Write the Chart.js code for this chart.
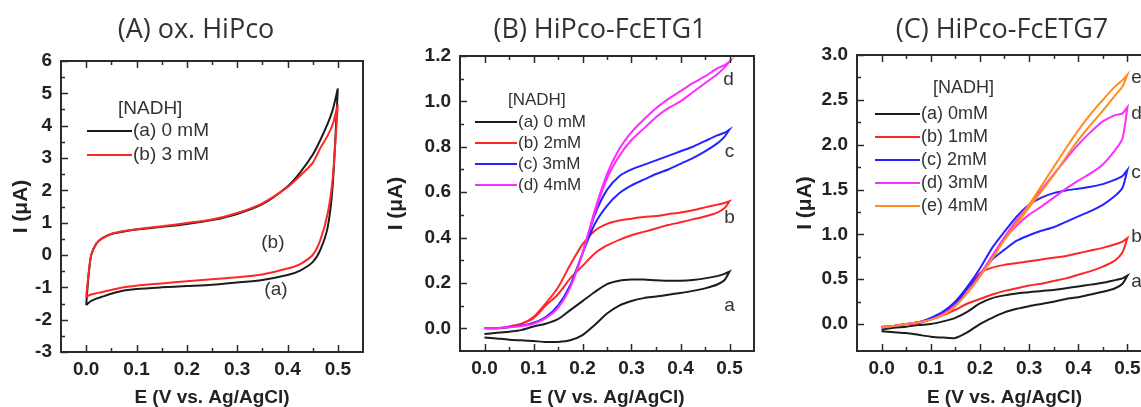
<!DOCTYPE html>
<html lang="en">
<head>
<meta charset="UTF-8" />
<title>Cyclic voltammograms – NADH oxidation on HiPco electrodes</title>
<script src="https://cdn.jsdelivr.net/npm/chart.js"></script>
<style>
  body {
    margin: 0;
    background: #fff;
    width: 1141px;
    height: 407px;
    overflow: hidden;
    position: relative;
  }
  canvas { position: absolute; top: 0; }
  .title {
    position: absolute;
    top: 9px;
    font-family: "Open Sans", sans-serif;
    font-size: 27px;
    color: #333;
    white-space: nowrap;
    transform: translateX(-50%);
  }
</style>
</head>
<body>
  <canvas id="chartA" style="left:0px" width="380" height="407"></canvas>
  <canvas id="chartB" style="left:380px" width="380" height="407"></canvas>
  <canvas id="chartC" style="left:760px" width="400" height="407"></canvas>
  <div class="title" style="left:196px">(A) ox. HiPco</div>
  <div class="title" style="left:600px">(B) HiPco-FcETG1</div>
  <div class="title" style="left:1002px">(C) HiPco-FcETG7</div>

<script>
  // ---- data (E in V vs Ag/AgCl, I in µA); each CV = forward scan + reverse scan at the same potentials
  const xTicks = [0, 0.1, 0.2, 0.3, 0.4, 0.5];

  // (A) ox. HiPco
  const potA = [0, 0.005, 0.01, 0.02, 0.03, 0.05, 0.075, 0.1, 0.15, 0.2, 0.25, 0.3, 0.35, 0.4, 0.425, 0.45, 0.465, 0.48, 0.49, 0.5];
  const A_a_fwd = [-1.55, -0.6, 0.0, 0.35, 0.5, 0.65, 0.73, 0.79, 0.87, 0.96, 1.08, 1.27, 1.57, 2.12, 2.55, 3.1, 3.55, 4.07, 4.5, 5.15];
  const A_a_rev = [-1.55, -1.48, -1.42, -1.35, -1.3, -1.2, -1.1, -1.05, -1.0, -0.96, -0.92, -0.85, -0.77, -0.62, -0.48, -0.22, 0.15, 0.87, 2.2, 5.15];
  const A_b_fwd = [-1.3, -0.55, 0.0, 0.35, 0.5, 0.65, 0.74, 0.8, 0.89, 0.99, 1.1, 1.3, 1.6, 2.1, 2.45, 2.85, 3.3, 3.7, 4.05, 4.65];
  const A_b_rev = [-1.3, -1.25, -1.22, -1.18, -1.15, -1.08, -1.0, -0.95, -0.88, -0.81, -0.75, -0.69, -0.6, -0.42, -0.28, 0.0, 0.45, 1.3, 2.4, 4.65];
  const legendA = ['(a) 0 mM', '(b) 3 mM'];
  const yTicksA = [-3, -2, -1, 0, 1, 2, 3, 4, 5, 6];

  // (B) HiPco-FcETG1
  const potB = [0, 0.025, 0.05, 0.075, 0.1, 0.125, 0.15, 0.175, 0.2, 0.225, 0.25, 0.275, 0.3, 0.325, 0.35, 0.375, 0.4, 0.425, 0.45, 0.475, 0.49, 0.5];
  const B_a_fwd = [-0.025, -0.02, -0.015, -0.008, 0.008, 0.02, 0.04, 0.08, 0.12, 0.16, 0.195, 0.21, 0.215, 0.215, 0.212, 0.21, 0.21, 0.213, 0.22, 0.23, 0.24, 0.25];
  const B_a_rev = [-0.04, -0.045, -0.05, -0.053, -0.056, -0.06, -0.06, -0.053, -0.03, 0.015, 0.065, 0.1, 0.12, 0.133, 0.14, 0.148, 0.156, 0.165, 0.176, 0.193, 0.213, 0.25];
  const B_b_fwd = [0.0, 0.0, 0.008, 0.02, 0.05, 0.11, 0.18, 0.28, 0.37, 0.43, 0.46, 0.475, 0.483, 0.49, 0.495, 0.503, 0.51, 0.52, 0.533, 0.545, 0.552, 0.56];
  const B_b_rev = [0.0, 0.0, 0.008, 0.02, 0.045, 0.1, 0.15, 0.22, 0.275, 0.33, 0.365, 0.39, 0.41, 0.425, 0.44, 0.455, 0.467, 0.48, 0.493, 0.51, 0.53, 0.56];
  const B_c_fwd = [0.0, 0.0, 0.005, 0.012, 0.025, 0.05, 0.1, 0.19, 0.33, 0.5, 0.61, 0.67, 0.7, 0.72, 0.74, 0.76, 0.78, 0.8, 0.825, 0.85, 0.862, 0.876];
  const B_c_rev = [0.0, 0.0, 0.005, 0.012, 0.025, 0.05, 0.1, 0.19, 0.33, 0.46, 0.54, 0.595, 0.63, 0.655, 0.68, 0.7, 0.725, 0.75, 0.78, 0.815, 0.845, 0.876];
  const B_d_fwd = [0.0, 0.0, 0.005, 0.01, 0.02, 0.045, 0.09, 0.18, 0.33, 0.52, 0.68, 0.79, 0.865, 0.92, 0.97, 1.01, 1.045, 1.08, 1.11, 1.145, 1.16, 1.175];
  const B_d_rev = [0.0, 0.0, 0.005, 0.01, 0.02, 0.045, 0.09, 0.18, 0.33, 0.51, 0.66, 0.76, 0.83, 0.88, 0.93, 0.97, 1.0, 1.04, 1.08, 1.12, 1.15, 1.175];
  const legendB = ['(a) 0 mM', '(b) 2mM', '(c) 3mM', '(d) 4mM'];
  const yTicksB = [0, 0.2, 0.4, 0.6, 0.8, 1.0, 1.2];

  // (C) HiPco-FcETG7
  const potC = potB;
  const C_a_fwd = [-0.06, -0.04, -0.03, -0.01, 0.0, 0.03, 0.07, 0.14, 0.23, 0.29, 0.32, 0.34, 0.355, 0.37, 0.38, 0.4, 0.42, 0.44, 0.46, 0.49, 0.51, 0.54];
  const C_a_rev = [-0.08, -0.09, -0.1, -0.12, -0.14, -0.15, -0.155, -0.09, 0.0, 0.07, 0.13, 0.17, 0.2, 0.225, 0.25, 0.28, 0.3, 0.33, 0.36, 0.4, 0.45, 0.54];
  const C_b_fwd = [-0.03, -0.02, 0.0, 0.02, 0.06, 0.13, 0.25, 0.4, 0.57, 0.63, 0.66, 0.68, 0.7, 0.72, 0.74, 0.76, 0.79, 0.82, 0.85, 0.89, 0.92, 0.96];
  const C_b_rev = [-0.04, -0.02, 0.0, 0.01, 0.05, 0.1, 0.16, 0.23, 0.28, 0.33, 0.37, 0.4, 0.43, 0.45, 0.48, 0.51, 0.55, 0.59, 0.64, 0.71, 0.8, 0.96];
  const C_c_fwd = [-0.04, -0.02, 0.0, 0.02, 0.07, 0.14, 0.25, 0.42, 0.62, 0.85, 1.03, 1.2, 1.33, 1.41, 1.46, 1.49, 1.51, 1.53, 1.56, 1.61, 1.65, 1.72];
  const C_c_rev = [-0.04, -0.02, 0.0, 0.02, 0.06, 0.12, 0.22, 0.4, 0.55, 0.72, 0.83, 0.93, 0.99, 1.04, 1.08, 1.14, 1.2, 1.26, 1.33, 1.43, 1.52, 1.72];
  const C_d_fwd = [-0.03, -0.02, 0.0, 0.02, 0.05, 0.11, 0.21, 0.36, 0.55, 0.76, 0.97, 1.16, 1.33, 1.5, 1.67, 1.84, 2.0, 2.14, 2.26, 2.33, 2.35, 2.42];
  const C_d_rev = [-0.03, -0.02, 0.0, 0.02, 0.05, 0.11, 0.21, 0.36, 0.55, 0.76, 0.95, 1.1, 1.22, 1.31, 1.41, 1.51, 1.6, 1.68, 1.78, 1.94, 2.07, 2.42];
  const C_e_fwd = [-0.04, -0.02, 0.0, 0.02, 0.05, 0.1, 0.2, 0.35, 0.53, 0.73, 0.94, 1.13, 1.33, 1.54, 1.75, 1.96, 2.16, 2.34, 2.5, 2.65, 2.72, 2.78];
  const C_e_rev = [-0.04, -0.02, 0.0, 0.02, 0.05, 0.1, 0.2, 0.35, 0.53, 0.73, 0.94, 1.12, 1.3, 1.48, 1.66, 1.86, 2.05, 2.22, 2.38, 2.55, 2.65, 2.78];
  const legendC = ['(a) 0mM', '(b) 1mM', '(c) 2mM', '(d) 3mM', '(e) 4mM'];
  const yTicksC = [0, 0.5, 1.0, 1.5, 2.0, 2.5, 3.0];

  const colors = ['#1c1c1c', '#ff2626', '#2424ff', '#ff2cff', '#ff8c1e'];
  const FONT = '"Liberation Sans", Arial, sans-serif';

  // forward scan then reverse scan back down -> one closed loop
  function loop(E, fwd, rev) {
    const pts = E.map((e, i) => ({ x: e, y: fwd[i] }));
    for (let i = E.length - 1; i >= 0; i--) pts.push({ x: E[i], y: rev[i] });
    return pts;
  }

  // box + inward major/minor ticks (bottom, top, left)
  const framePlugin = {
    id: 'frame',
    afterDatasetsDraw(chart) {
      const { ctx, chartArea: a, scales: { x, y } } = chart;
      const withMinors = vals => {
        const out = [];
        vals.forEach((v, i) => {
          out.push([v, 7]);
          if (i < vals.length - 1) out.push([(v + vals[i + 1]) / 2, 4]);
        });
        return out;
      };
      ctx.save();
      ctx.strokeStyle = '#2a2a2a';
      ctx.lineWidth = 1.5;
      withMinors(x.ticks.map(t => t.value)).forEach(([v, len]) => {
        const px = Math.round(x.getPixelForValue(v)) + 0.5;
        ctx.beginPath();
        ctx.moveTo(px, a.bottom); ctx.lineTo(px, a.bottom - len);
        ctx.moveTo(px, a.top); ctx.lineTo(px, a.top + len);
        ctx.stroke();
      });
      withMinors(y.ticks.map(t => t.value)).forEach(([v, len]) => {
        const py = Math.round(y.getPixelForValue(v)) + 0.5;
        ctx.beginPath();
        ctx.moveTo(a.left, py); ctx.lineTo(a.left + len, py);
        ctx.stroke();
      });
      ctx.lineWidth = 2;
      ctx.strokeRect(a.left, a.top, a.right - a.left, a.bottom - a.top);
      ctx.restore();
    }
  };

  // legend drawn inside the plot area
  const legendPlugin = {
    id: 'cvLegend',
    afterDraw(chart, args, o) {
      const ctx = chart.ctx;
      ctx.save();
      ctx.font = o.size + 'px ' + FONT;
      ctx.fillStyle = '#333';
      ctx.textBaseline = 'middle';
      ctx.textAlign = 'left';
      ctx.fillText('[NADH]', o.headerX, o.headerY);
      chart.data.datasets.forEach((ds, i) => {
        const yy = o.y + i * o.rowH;
        ctx.strokeStyle = ds.borderColor;
        ctx.lineWidth = 2;
        ctx.beginPath();
        ctx.moveTo(o.x, yy); ctx.lineTo(o.x + o.len, yy);
        ctx.stroke();
        ctx.fillText(ds.label, o.x + o.len + 1, yy);
      });
      ctx.restore();
    }
  };

  // letters next to the curves
  const tagPlugin = {
    id: 'curveTags',
    afterDraw(chart, args, o) {
      const { ctx, scales: { x, y } } = chart;
      ctx.save();
      ctx.font = o.size + 'px ' + FONT;
      ctx.fillStyle = '#333';
      ctx.textAlign = o.align;
      ctx.textBaseline = 'middle';
      o.items.forEach(t => ctx.fillText(t.text, x.getPixelForValue(t.x), y.getPixelForValue(t.y)));
      ctx.restore();
    }
  };

  function makeChart(id, c) {
    return new Chart(document.getElementById(id), {
      type: 'scatter',
      data: {
        datasets: c.series.map((s, i) => ({
          label: c.names[i],
          data: loop(c.E, s[0], s[1]),
          borderColor: colors[i],
          backgroundColor: colors[i],
          showLine: true,
          fill: false,
          pointRadius: 0,
          borderWidth: 2,
          tension: 0.25,
          order: -i
        }))
      },
      options: {
        responsive: false,
        animation: false,
        events: [],
        layout: { padding: c.pad },
        plugins: {
          legend: { display: false },
          tooltip: { enabled: false },
          cvLegend: c.legend,
          curveTags: c.tags
        },
        scales: {
          x: {
            type: 'linear',
            min: -0.05,
            max: 0.55,
            afterBuildTicks: s => { s.ticks = xTicks.map(v => ({ value: v })); },
            afterFit: s => { s.height = c.xh; },
            grid: { display: false, drawTicks: false },
            border: { display: false },
            ticks: {
              font: { family: FONT, size: 19, weight: 'bold' },
              color: '#222',
              padding: 6,
              maxRotation: 0,
              callback: v => v.toFixed(1)
            },
            title: {
              display: true,
              text: 'E (V vs. Ag/AgCl)',
              font: { family: FONT, size: 19, weight: 'bold' },
              color: '#222',
              padding: { top: 0, bottom: -2 }
            }
          },
          y: {
            type: 'linear',
            min: c.ymin,
            max: c.ymax,
            afterBuildTicks: s => { s.ticks = c.yTicks.map(v => ({ value: v })); },
            afterFit: s => { s.width = c.yw; },
            grid: { display: false, drawTicks: false },
            border: { display: false },
            ticks: {
              font: { family: FONT, size: 19, weight: 'bold' },
              color: '#222',
              padding: 9,
              callback: c.yFmt
            },
            title: {
              display: true,
              text: 'I (μA)',
              font: { family: FONT, size: 21, weight: 'bold' },
              color: '#222',
              padding: { top: 0, bottom: 0 }
            }
          }
        }
      },
      plugins: [framePlugin, legendPlugin, tagPlugin]
    });
  }

  makeChart('chartA', {
    E: potA,
    series: [[A_a_fwd, A_a_rev], [A_b_fwd, A_b_rev]],
    names: legendA,
    ymin: -3, ymax: 6, yTicks: yTicksA, yFmt: v => String(v),
    pad: { left: 9, right: 17, top: 61, bottom: 0 }, yw: 52, xh: 55,
    legend: { size: 19, headerX: 118, headerY: 109, x: 87, y: 131, rowH: 24, len: 45 },
    tags: { size: 19, align: 'center', items: [
      { text: '(b)', x: 0.371, y: 0.37 },
      { text: '(a)', x: 0.377, y: -1.08 }
    ] }
  });

  makeChart('chartB', {
    E: potB,
    series: [[B_a_fwd, B_a_rev], [B_b_fwd, B_b_rev], [B_c_fwd, B_c_rev], [B_d_fwd, B_d_rev]],
    names: legendB,
    ymin: -0.1, ymax: 1.2, yTicks: yTicksB, yFmt: v => v.toFixed(1),
    pad: { left: 4, right: 6, top: 56, bottom: 0 }, yw: 76, xh: 56,
    legend: { size: 17, headerX: 128, headerY: 100, x: 95, y: 122, rowH: 21, len: 42 },
    tags: { size: 19, align: 'center', items: [
      { text: 'd', x: 0.498, y: 1.094 },
      { text: 'c', x: 0.5, y: 0.776 },
      { text: 'b', x: 0.5, y: 0.485 },
      { text: 'a', x: 0.5, y: 0.10 }
    ] }
  });

  makeChart('chartC', {
    E: potC,
    series: [[C_a_fwd, C_a_rev], [C_b_fwd, C_b_rev], [C_c_fwd, C_c_rev], [C_d_fwd, C_d_rev], [C_e_fwd, C_e_rev]],
    names: legendC,
    ymin: -0.3, ymax: 3.0, yTicks: yTicksC, yFmt: v => v.toFixed(1),
    pad: { left: 33, right: 8, top: 55, bottom: 0 }, yw: 64, xh: 56,
    legend: { size: 18, headerX: 173, headerY: 88, x: 115, y: 114, rowH: 23, len: 45 },
    tags: { size: 19, align: 'left', items: [
      { text: 'e', x: 0.508, y: 2.75 },
      { text: 'd', x: 0.508, y: 2.35 },
      { text: 'c', x: 0.508, y: 1.69 },
      { text: 'b', x: 0.508, y: 0.97 },
      { text: 'a', x: 0.508, y: 0.47 }
    ] }
  });
</script>
</body>
</html>
